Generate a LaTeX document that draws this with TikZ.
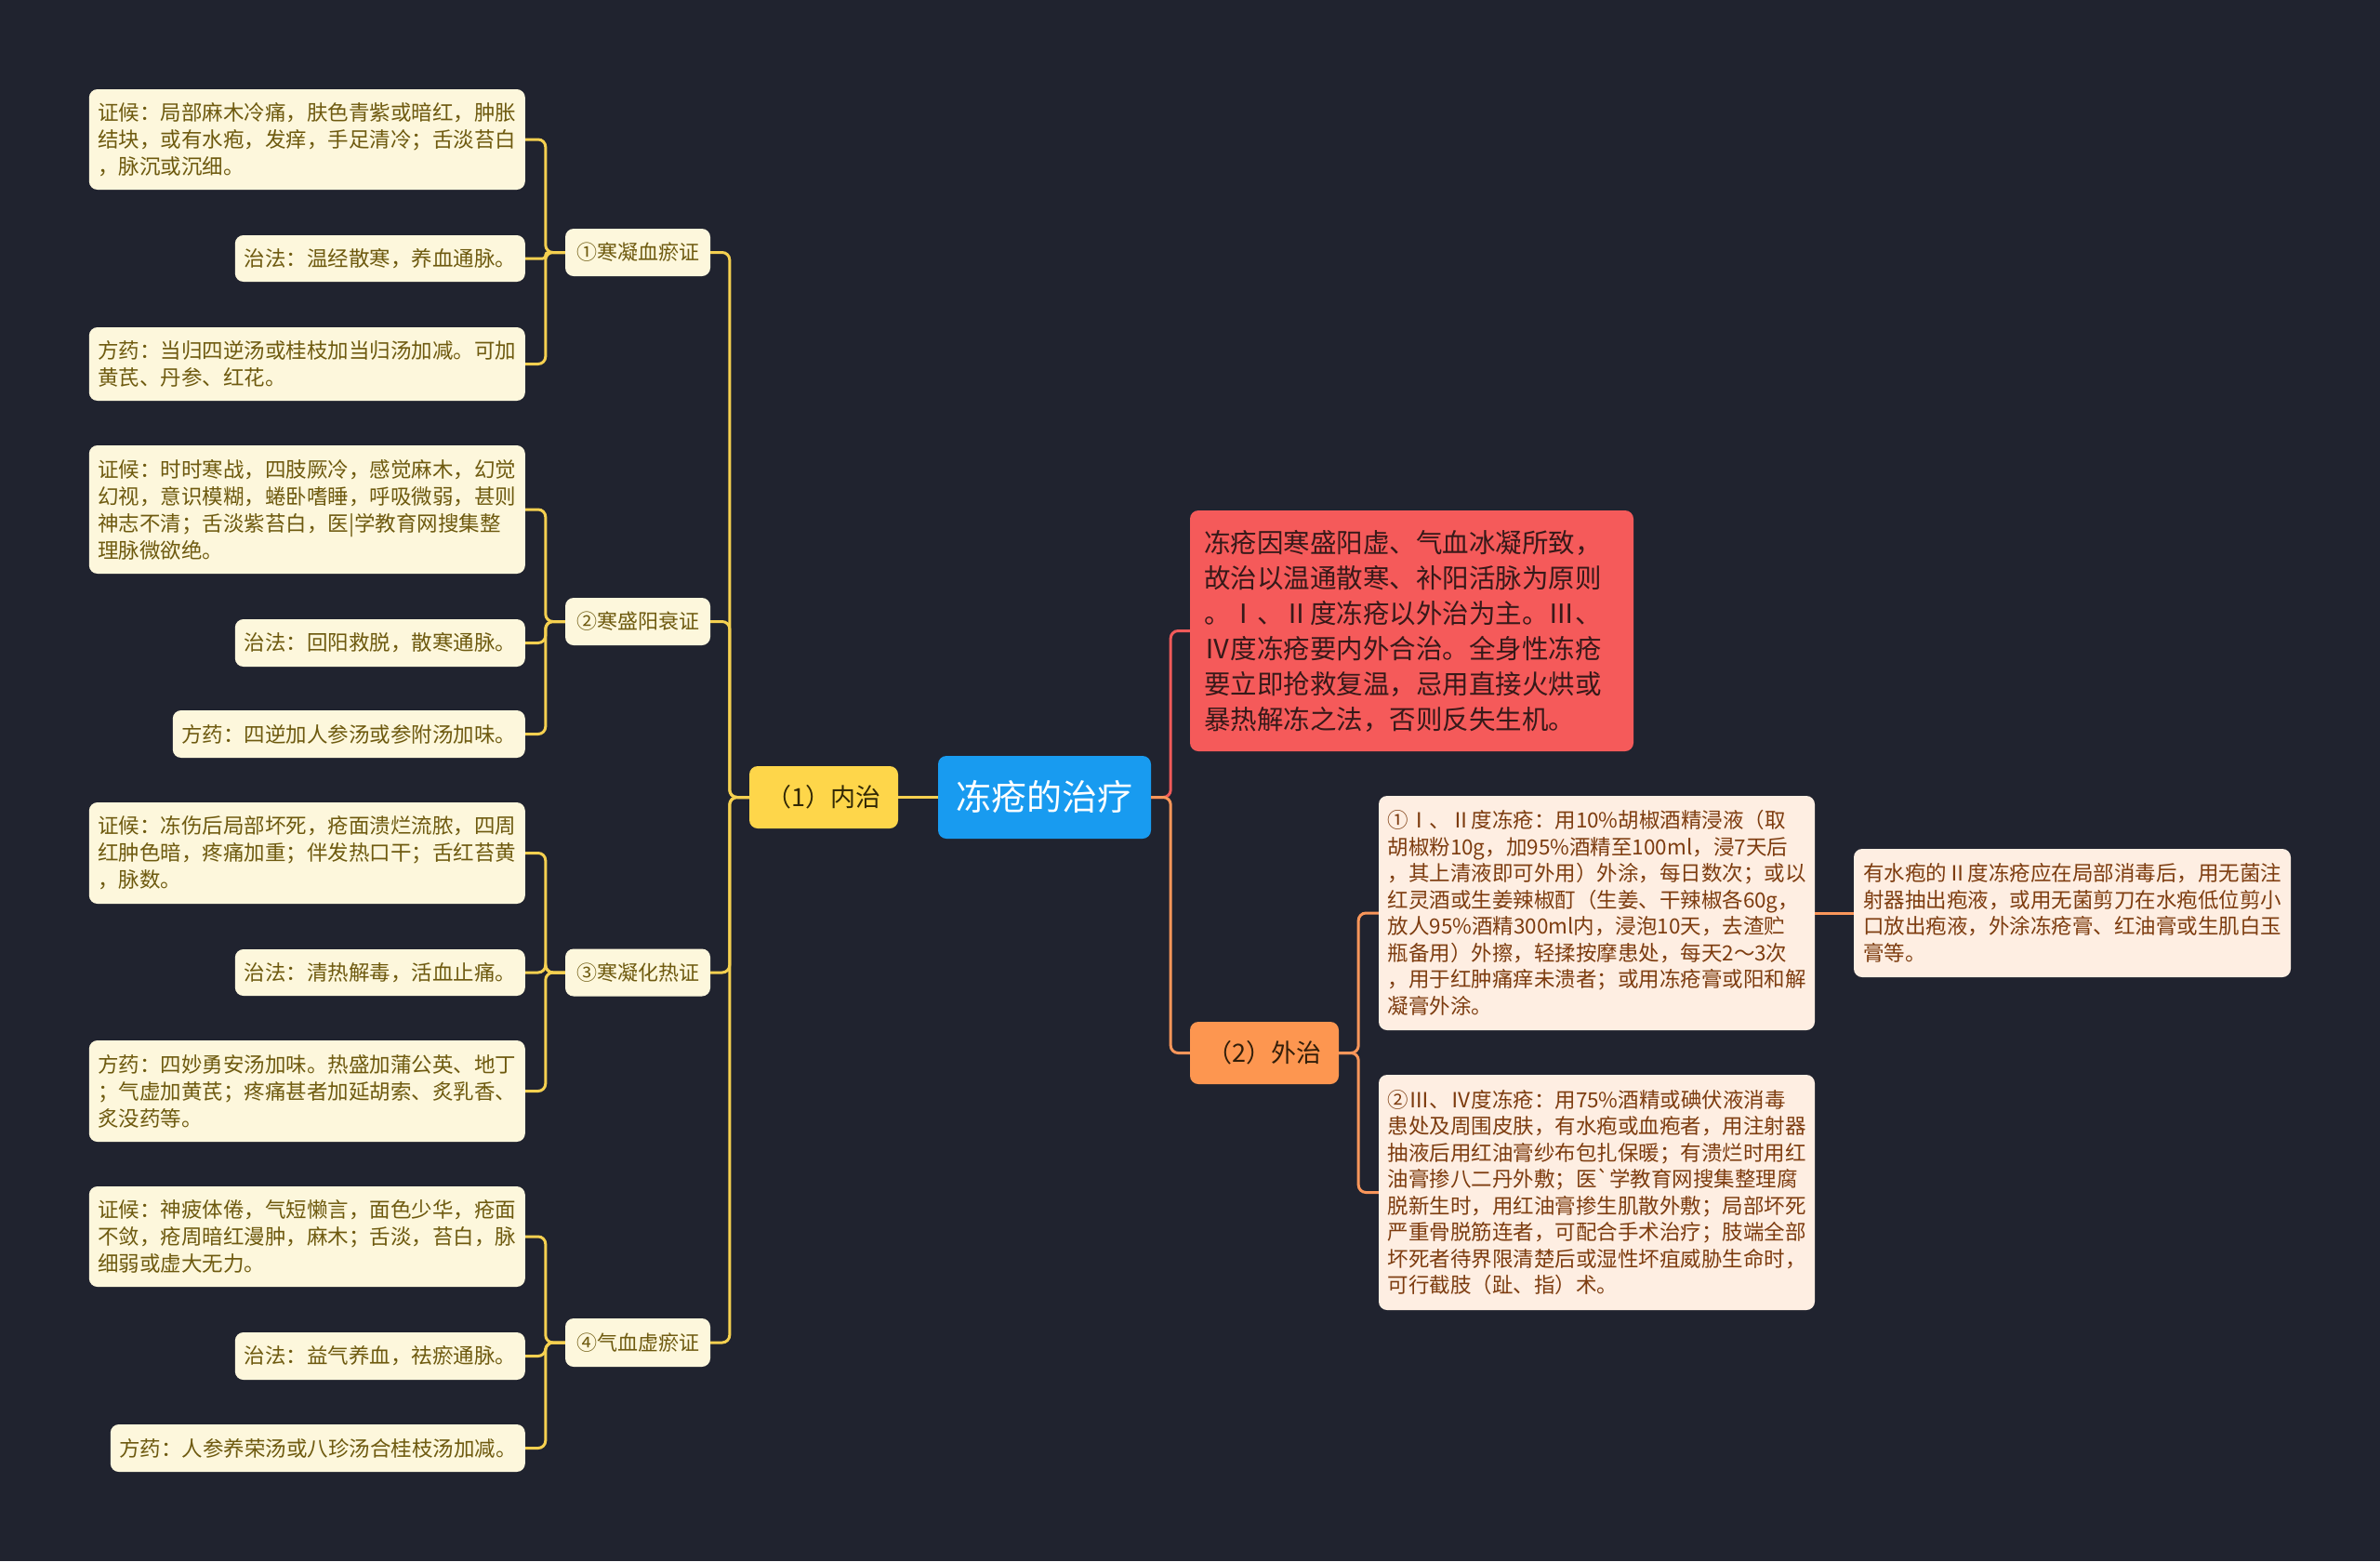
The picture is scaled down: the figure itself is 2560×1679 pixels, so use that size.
\documentclass[tikz,border=0pt]{standalone}
\usepackage{fontspec}
\newfontfamily\cjk{Noto Sans CJK SC}
\definecolor{bg}{RGB}{32,35,47}
\definecolor{ylw}{RGB}{245,208,80}
\definecolor{neifill}{RGB}{254,214,74}
\definecolor{rootfill}{RGB}{24,155,240}
\definecolor{redfill}{RGB}{245,90,90}
\definecolor{waifill}{RGB}{253,150,80}
\definecolor{orl}{RGB}{250,150,90}
\definecolor{redl}{RGB}{240,90,90}
\definecolor{lcream}{RGB}{253,247,220}
\definecolor{lolive}{RGB}{110,90,15}
\definecolor{rpeach}{RGB}{254,238,226}
\definecolor{rbrown}{RGB}{125,60,15}
\begin{document}
\begin{tikzpicture}[x=1pt,y=-1pt,
  base/.style={rounded corners=9pt, inner sep=0pt, align=left},
  lleaf/.style={base, fill=lcream, text=lolive, font=\cjk\fontsize{22.5}{29}\selectfont, anchor=east},
  lmid/.style={base, fill=lcream, text=lolive, font=\cjk\fontsize{22}{26}\selectfont, minimum width=156pt, minimum height=51pt},
  rleaf/.style={base, fill=rpeach, text=rbrown, font=\cjk\fontsize{22.5}{28.5}\selectfont},
  yl/.style={draw=ylw, line width=3pt, rounded corners=8pt},
  ol/.style={draw=orl, line width=3pt, rounded corners=8pt},
  rl/.style={draw=redl, line width=3pt, rounded corners=8pt}]
\fill[bg] (0,0) rectangle (2560,1679);
\useasboundingbox (0,0) rectangle (2560,1679);

% root and main branches
\node[base, fill=rootfill, text=white, font=\cjk\fontsize{38}{44}\selectfont, minimum width=229pt, minimum height=89pt] (root) at (1123.5,857.5) {冻疮的治疗};
\node[base, fill=neifill, text={rgb,255:red,50;green,40;blue,5}, font=\cjk\fontsize{27}{32}\selectfont, minimum width=160pt, minimum height=67pt] (nei) at (886,857.5) {（1）内治};
\node[base, fill=waifill, text={rgb,255:red,50;green,30;blue,10}, font=\cjk\fontsize{27}{32}\selectfont, minimum width=160pt, minimum height=67pt] (wai) at (1360,1132.5) {（2）外治};
\node[base, fill=redfill, text={rgb,255:red,55;green,25;blue,25}, font=\cjk\fontsize{28.5}{38}\selectfont, text width=447pt, inner xsep=15pt, minimum height=259pt] (red) at (1518.5,678.5) {冻疮因寒盛阳虚、气血冰凝所致，\\故治以温通散寒、补阳活脉为原则\\。Ⅰ、Ⅱ度冻疮以外治为主。Ⅲ、\\Ⅳ度冻疮要内外合治。全身性冻疮\\要立即抢救复温，忌用直接火烘或\\暴热解冻之法，否则反失生机。};

% level 2 left
\node[lmid] (A) at (686,271.5) {①寒凝血瘀证};
\node[lmid] (B) at (686,668.5) {②寒盛阳衰证};
\node[lmid] (C) at (686,1046) {③寒凝化热证};
\node[lmid, minimum height=52pt] (D) at (686,1444) {④气血虚瘀证};

% leaves group 1
\node[lleaf, minimum width=469pt, minimum height=108pt] (a1) at (565,150) {证候：局部麻木冷痛，肤色青紫或暗红，肿胀\\结块，或有水疱，发痒，手足清冷；舌淡苔白\\，脉沉或沉细。};
\node[lleaf, minimum width=312pt, minimum height=50pt] (a2) at (565,278) {治法：温经散寒，养血通脉。};
\node[lleaf, minimum width=469pt, minimum height=79pt] (a3) at (565,391.5) {方药：当归四逆汤或桂枝加当归汤加减。可加\\黄芪、丹参、红花。};
% group 2
\node[lleaf, minimum width=469pt, minimum height=138pt] (b1) at (565,548) {证候：时时寒战，四肢厥冷，感觉麻木，幻觉\\幻视，意识模糊，蜷卧嗜睡，呼吸微弱，甚则\\神志不清；舌淡紫苔白，医|学教育网搜集整\\理脉微欲绝。};
\node[lleaf, minimum width=312pt, minimum height=51pt] (b2) at (565,691.5) {治法：回阳救脱，散寒通脉。};
\node[lleaf, minimum width=379pt, minimum height=51pt] (b3) at (565,789.5) {方药：四逆加人参汤或参附汤加味。};
% group 3
\node[lleaf, minimum width=469pt, minimum height=109pt] (c1) at (565,917.5) {证候：冻伤后局部坏死，疮面溃烂流脓，四周\\红肿色暗，疼痛加重；伴发热口干；舌红苔黄\\，脉数。};
\node[lleaf, minimum width=312pt, minimum height=50pt] (c2) at (565,1046) {治法：清热解毒，活血止痛。};
\node[lleaf, minimum width=469pt, minimum height=109pt] (c3) at (565,1173.5) {方药：四妙勇安汤加味。热盛加蒲公英、地丁\\；气虚加黄芪；疼痛甚者加延胡索、炙乳香、\\炙没药等。};
% group 4
\node[lleaf, minimum width=469pt, minimum height=108pt] (d1) at (565,1330) {证候：神疲体倦，气短懒言，面色少华，疮面\\不敛，疮周暗红漫肿，麻木；舌淡，苔白，脉\\细弱或虚大无力。};
\node[lleaf, minimum width=312pt, minimum height=51pt] (d2) at (565,1458.5) {治法：益气养血，祛瘀通脉。};
\node[lleaf, minimum width=446pt, minimum height=51pt] (d3) at (565,1557.5) {方药：人参养荣汤或八珍汤合桂枝汤加减。};

% right leaves
\node[rleaf, minimum width=469pt, minimum height=252pt] (r1) at (1717.5,982) {①Ⅰ、Ⅱ度冻疮：用10\%胡椒酒精浸液（取\\胡椒粉10g，加95\%酒精至100ml，浸7天后\\，其上清液即可外用）外涂，每日数次；或以\\红灵酒或生姜辣椒酊（生姜、干辣椒各60g，\\放人95\%酒精300ml内，浸泡10天，去渣贮\\瓶备用）外擦，轻揉按摩患处，每天2～3次\\，用于红肿痛痒未溃者；或用冻疮膏或阳和解\\凝膏外涂。};
\node[rleaf, minimum width=469pt, minimum height=253pt] (r2) at (1717.5,1282.5) {②Ⅲ、Ⅳ度冻疮：用75\%酒精或碘伏液消毒\\患处及周围皮肤，有水疱或血疱者，用注射器\\抽液后用红油膏纱布包扎保暖；有溃烂时用红\\油膏掺八二丹外敷；医`学教育网搜集整理腐\\脱新生时，用红油膏掺生肌散外敷；局部坏死\\严重骨脱筋连者，可配合手术治疗；肢端全部\\坏死者待界限清楚后或湿性坏疽威胁生命时，\\可行截肢（趾、指）术。};
\node[rleaf, minimum width=470pt, minimum height=138pt] (r3) at (2229,982) {有水疱的Ⅱ度冻疮应在局部消毒后，用无菌注\\射器抽出疱液，或用无菌剪刀在水疱低位剪小\\口放出疱液，外涂冻疮膏、红油膏或生肌白玉\\膏等。};

% connectors left
\draw[yl] (root.west) -- (nei.east);
\foreach \n in {A,B,C,D}{\draw[yl] (nei.west) -- ++(-21,0) |- (\n.east);}
\foreach \n in {a1,a3}{\draw[yl] (A.west) -- ++(-21,0) |- (\n.east);}
\draw[yl, rounded corners=3pt] (A.west) -- ++(-21,0) |- (a2.east);
\foreach \n in {b1,b2,b3}{\draw[yl] (B.west) -- ++(-21,0) |- (\n.east);}
\foreach \n in {c1,c2,c3}{\draw[yl] (C.west) -- ++(-21,0) |- (\n.east);}
\foreach \n in {d1,d2,d3}{\draw[yl] (D.west) -- ++(-21,0) |- (\n.east);}

% connectors right
\draw[rl] (root.east) -- ++(21,0) |- (red.west);
\draw[ol] (root.east) -- ++(21,0) |- (wai.west);
\draw[ol] (wai.east) -- ++(21,0) |- (r1.west);
\draw[ol] (wai.east) -- ++(21,0) |- (r2.west);
\draw[ol] (r1.east) -- (r3.west);
\end{tikzpicture}
\end{document}
